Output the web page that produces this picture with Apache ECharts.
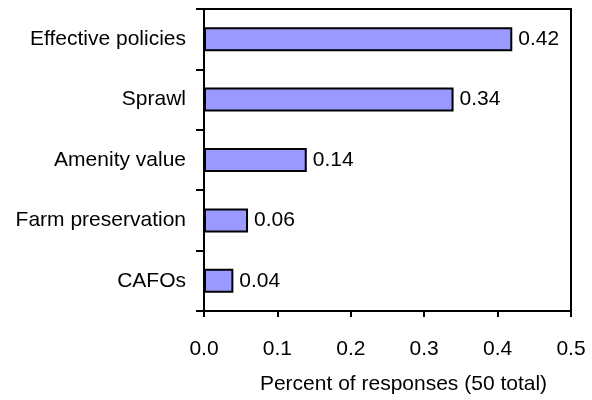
<!DOCTYPE html>
<html><head><meta charset="utf-8">
<script src="https://cdn.jsdelivr.net/npm/echarts@6/dist/echarts.min.js"></script>
<style>html,body{margin:0;padding:0;background:#fff}#c{width:592px;height:400px}</style>
</head><body><div id="c"></div>
<script>
const categories = ["Effective policies", "Sprawl", "Amenity value", "Farm preservation", "CAFOs"];
const values = [0.42, 0.34, 0.14, 0.06, 0.04];
const xTickLabels = ["0.0", "0.1", "0.2", "0.3", "0.4", "0.5"];
const xTitle = "Percent of responses (50 total)";

const font = "'Liberation Sans', Arial, sans-serif";
const chart = echarts.init(document.getElementById('c'), null, {renderer: 'canvas'});
chart.setOption({
  animation: false,
  grid: {left: 204, right: 21, top: 9, bottom: 86, show: true, borderColor: '#000', borderWidth: 2, backgroundColor: 'transparent'},
  xAxis: {
    type: 'value', min: 0, max: 0.5, interval: 0.1,
    name: xTitle, nameLocation: 'middle', nameGap: 63,
    nameTextStyle: {fontFamily: font, fontSize: 21, color: '#000', padding: [0, 0, 0, 32]},
    axisLine: {show: true, lineStyle: {color: '#000', width: 2}},
    axisTick: {show: true, length: 6, lineStyle: {color: '#000', width: 2}},
    axisLabel: {fontFamily: font, fontSize: 21, color: '#000', margin: 28,
      formatter: (v) => xTickLabels[Math.round(v * 10)]},
    splitLine: {show: false}
  },
  yAxis: {
    type: 'category', data: categories, inverse: true,
    axisLine: {show: true, lineStyle: {color: '#000', width: 2}},
    axisTick: {show: true, length: 8, alignWithLabel: false, lineStyle: {color: '#000', width: 2}},
    axisLabel: {fontFamily: font, fontSize: 21, color: '#000', margin: 18}
  },
  series: [{
    type: 'bar', data: values, barWidth: 24,
    itemStyle: {color: '#9999FF', borderColor: '#000', borderWidth: 2},
    label: {show: true, position: 'right', distance: 6, fontFamily: font, fontSize: 21, color: '#000',
      formatter: (p) => String(p.value)}
  }]
});
</script></body></html>
